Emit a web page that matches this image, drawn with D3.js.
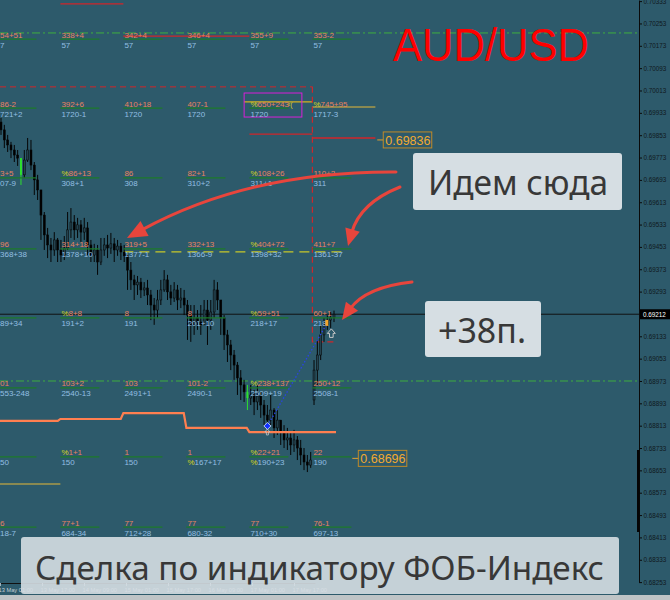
<!DOCTYPE html>
<html><head><meta charset="utf-8">
<script src="https://cdn.jsdelivr.net/npm/d3@7"></script>
<style>html,body{margin:0;padding:0;background:#2d5a6b;}svg{display:block}</style>
</head><body><svg id="c" width="670" height="600"></svg>
<script>
// ---------------- DATA ----------------
const priceTicks = [0.70333,0.70253,0.70173,0.70093,0.70013,0.69933,0.69853,0.69773,0.69693,0.69613,0.69533,0.69453,0.69373,0.69293,0.69213,0.69133,0.69053,0.68973,0.68893,0.68813,0.68733,0.68653,0.68573,0.68493,0.68413,0.68333,0.68253];
const currentPrice = 0.69212;
const dateTicks = ["2019-05-13 01:00","2019-05-13 17:00","2019-05-14 09:00","2019-05-15 01:00","2019-05-15 17:00","2019-05-16 09:00","2019-05-17 01:00","2019-05-17 17:00"];
const colDays = ["2019-05-13 00:00","2019-05-14 00:00","2019-05-15 00:00","2019-05-16 00:00","2019-05-17 00:00","2019-05-18 00:00"];
const rowLevels = [0.70197,0.69950,0.69700,0.69446,0.69199,0.68948,0.68701,0.68450];
const topLabels = [
 ["54+51","338+4","342+4","346+4","355+9","353-2"],
 ["86-2","392+6","410+18","407-1","%650+243","%745+95"],
 ["3+5","%86+13","86","82+1","%108+26","110+2"],
 ["96","314+18","319+5","332+13","%404+72","411+7"],
 ["","%8+8","8","8","%59+51","60+1"],
 ["01","103+2","103","101-2","%238+137","250+12"],
 ["","%1+1","1","1","%22+21","22"],
 ["6","77+1","77","77","77","76-1"]];
const bottomLabels = [
 ["7","57","57","57","57","57"],
 ["721+2","1720-1","1720","1720","1720","1717-3"],
 ["07-9","308+1","308","310+2","311+1","311"],
 ["368+38","1378+10","1377-1","1366-9","1398+32","1361-37"],
 ["89+34","191+2","191","201+10","218+17","218"],
 ["553-248","2540-13","2491+1","2490-1","2509+19","2508-1"],
 ["50","150","150","%167+17","%190+23","190"],
 ["18-7","684-34","712+28","680-32","710+30","697-13"]];
// candles (prices x 1e-5)
const opens0 = 69900, gapOpen = {94: 68905};
const closes = [69872,69836,69818,69800,69782,69771,69711,69764,69800,69746,
 69693,69657,69567,69496,69460,69442,69478,69442,69424,69449,
 69514,69542,69514,69532,69506,69521,69460,69424,69442,69399,
 69442,69460,69449,69464,69442,69456,69435,69421,69370,69335,
 69317,69327,69299,69306,69281,69245,69227,69263,69299,69335,
 69292,69270,69299,69263,69270,69245,69209,69174,69199,69184,
 69174,69227,69191,69220,69299,69263,69199,69138,69102,69066,
 69030,68984,68959,68934,68912,68923,68898,68919,68887,68851,
 68833,68869,68805,68833,68790,68762,68769,68744,68762,68733,
 68708,68683,68672,68690,69012,69066,69138,69174,69191,69199,
 69212];
const highs = [69915,69890,69854,69829,69818,69800,69771,69800,69843,69836,
 69757,69711,69657,69578,69521,69485,69506,69485,69478,69492,
 69578,69592,69567,69557,69549,69557,69542,69478,69464,69460,
 69485,69485,69496,69503,69485,69478,69467,69460,69424,69399,
 69353,69349,69342,69327,69335,69299,69270,69299,69335,69370,
 69353,69317,69327,69317,69306,69299,69263,69245,69245,69227,
 69245,69263,69263,69263,69335,69327,69263,69209,69156,69120,
 69084,69041,69012,68977,68959,68959,68941,68959,68934,68905,
 68887,68923,68876,68869,68833,68815,68805,68790,68798,68776,
 68762,68733,68708,68719,69048,69120,69174,69199,69209,69220,
 69225];
const lows = [69854,69807,69793,69771,69757,69743,69675,69700,69757,69728,
 69639,69621,69478,69442,69413,69399,69421,69399,69399,69406,
 69442,69485,69478,69485,69471,69478,69424,69399,69399,69353,
 69388,69421,69413,69428,69399,69421,69406,69399,69299,69299,
 69263,69281,69270,69277,69245,69191,69174,69199,69245,69292,
 69263,69245,69256,69227,69234,69209,69120,69113,69138,69156,
 69138,69174,69102,69156,69199,69227,69138,69084,69041,69012,
 68977,68923,68905,68898,68869,68887,68851,68869,68841,68815,
 68805,68815,68769,68780,68744,68733,68726,68708,68719,68690,
 68672,68654,68647,68662,68887,68959,69048,69113,69156,69163,
 69184];
const signalCandles = [6, 74];
// indicator step line
const stepTimes = ["2019-05-13 01:00","2019-05-13 23:00","2019-05-14 00:00","2019-05-14 23:00","2019-05-15 00:00","2019-05-15 23:00","2019-05-16 00:00","2019-05-16 23:00","2019-05-17 00:00","2019-05-18 09:00"];
const stepValues = [0.68830,0.68830,0.68837,0.68837,0.68858,0.68858,0.68805,0.68805,0.68790,0.68790];
// level lines
const greenDashLevels = [0.70219, 0.68973];
const redSolidSegs = [[0.70323,"2019-05-14 00:00","2019-05-15 00:00"],[0.70208,"2019-05-15 00:00","2019-05-17 00:00"],[0.69857,"2019-05-17 00:00","2019-05-18 00:00"],[0.69843,"2019-05-18 00:00","2019-05-19 00:00"]];
const redDashLevel = [0.70026,"2019-05-13 01:00","2019-05-18 00:00"];
const yellowSeg = [0.69972,"2019-05-16 22:00","2019-05-18 00:00"];
const oliveSegs = [[0.69954,"2019-05-18 00:00","2019-05-19 00:00"],[0.68604,"2019-05-13 00:00","2019-05-14 00:00"]];
const yellowDashSeg = [0.69435,"2019-05-15 00:00","2019-05-18 12:00"];
const magentaBox = ["2019-05-16 22:00","2019-05-17 20:00",0.70004,0.69918];
const redDashBox = ["2019-05-18 00:00","2019-05-18 09:00",0.70026,0.69113];
const priceLabels = [[0.69836,"2019-05-19 03:00"],[0.68696,"2019-05-18 17:30"]];
const trendFrom = [80, 0.68812], trendTo = [98, 0.69181];

// ---------------- SCALES ----------------
const P = d3.timeParse("%Y-%m-%d %H:%M");
const svg = d3.select("#c");
const y = d3.scaleLinear().domain([0.70337,0.68253]).range([0,582.1]);
const xT = d3.scaleTime().domain([P("2019-05-13 01:00"),P("2019-05-18 01:00")]).range([0,315]);
const xI = d3.scaleLinear().domain([0,closes.length-1]).range([1,334]);
const yp = v => y(v/1e5);
const LF = "'Liberation Sans',Arial,sans-serif";

svg.append("rect").attr("width",670).attr("height",600).attr("fill","#2d5a6b");
svg.append("defs").append("clipPath").attr("id","clip").append("rect").attr("width",639).attr("height",583);

// date axis
const xa = svg.append("g").attr("transform","translate(0,583)")
 .call(d3.axisBottom(xT).tickValues(dateTicks.map(P)).tickFormat(d3.timeFormat("%-d %b %H:%M")).tickSize(3).tickSizeOuter(0));
xa.select(".domain").attr("stroke","#111");
xa.selectAll(".tick line").attr("stroke","#9fb3bd");
xa.selectAll("text").attr("text-anchor","start").attr("x",-2).attr("y",4.5).attr("fill","#c3d0d6").style("font",`5.7px ${LF}`);

const plot = svg.append("g").attr("clip-path","url(#clip)");

// level lines
greenDashLevels.forEach(v=>plot.append("line").attr("x1",0).attr("x2",639).attr("y1",y(v)).attr("y2",y(v))
 .attr("stroke","#3fae3f").attr("stroke-width",1).attr("stroke-dasharray","8,3,2,3"));
redSolidSegs.forEach(s=>plot.append("line").attr("x1",xT(P(s[1]))).attr("x2",xT(P(s[2]))).attr("y1",y(s[0])).attr("y2",y(s[0]))
 .attr("stroke","#d0262a").attr("stroke-width",1.3));
plot.append("line").attr("x1",xT(P(redDashLevel[1]))).attr("x2",xT(P(redDashLevel[2]))).attr("y1",y(redDashLevel[0])).attr("y2",y(redDashLevel[0]))
 .attr("stroke","#d0262a").attr("stroke-width",1).attr("stroke-dasharray","6,4");
plot.append("line").attr("x1",xT(P(yellowSeg[1]))).attr("x2",xT(P(yellowSeg[2]))).attr("y1",y(yellowSeg[0])).attr("y2",y(yellowSeg[0]))
 .attr("stroke","#d4b020").attr("stroke-width",1.3);
oliveSegs.forEach(s=>plot.append("line").attr("x1",xT(P(s[1]))).attr("x2",xT(P(s[2]))).attr("y1",y(s[0])).attr("y2",y(s[0]))
 .attr("stroke","#a89a48").attr("stroke-width",1.5));
plot.append("line").attr("x1",xT(P(yellowDashSeg[1]))).attr("x2",xT(P(yellowDashSeg[2]))).attr("y1",y(yellowDashSeg[0])).attr("y2",y(yellowDashSeg[0]))
 .attr("stroke","#c8c82a").attr("stroke-width",1.2).attr("stroke-dasharray","10,6");
// current price line
plot.append("line").attr("x1",0).attr("x2",639).attr("y1",y(currentPrice)).attr("y2",y(currentPrice)).attr("stroke","#111").attr("stroke-width",1);
// red dashed box (vertical + bottom)
{const x0=xT(P(redDashBox[0])), x1=xT(P(redDashBox[1])), y0=y(redDashBox[2]), y1=y(redDashBox[3]);
 plot.append("path").attr("d",`M${x0},${y0}V${y1}H${x1}`).attr("fill","none").attr("stroke","#d0262a").attr("stroke-width",1.2).attr("stroke-dasharray","6,4");}
// magenta box
{const x0=xT(P(magentaBox[0])), x1=xT(P(magentaBox[1]));
 plot.append("rect").attr("x",x0).attr("y",y(magentaBox[2])).attr("width",x1-x0).attr("height",y(magentaBox[3])-y(magentaBox[2]))
 .attr("fill","none").attr("stroke","#d81ed8").attr("stroke-width",1);
 plot.append("text").attr("x",x1-14).attr("y",y(0.69954)).attr("fill","#d8d020").style("font",`7px ${LF}`).text("‹(");}

// candles
const cg = plot.append("g");
closes.forEach((c,i)=>{
  const o = gapOpen[i] !== undefined ? gapOpen[i] : (i===0 ? opens0 : closes[i-1]);
  const x = xI(i), sig = signalCandles.includes(i);
  const col = sig ? "#2ee02e" : "#050505";
  cg.append("line").attr("x1",x).attr("x2",x).attr("y1",yp(highs[i])).attr("y2",yp(lows[i])).attr("stroke",col).attr("stroke-width",1);
  const top = Math.min(yp(o),yp(c)), h = Math.max(1,Math.abs(yp(o)-yp(c)));
  cg.append("rect").attr("x",x-1).attr("y",top).attr("width",2).attr("height",h)
    .attr("fill", sig ? "#2ee02e" : (c>o ? "#24424e" : "#000")).attr("stroke", sig? "none" : "#050505").attr("stroke-width",0.5);
});

// indicator step line
plot.append("path").datum(stepTimes.map((t,i)=>[xT(P(t)),y(stepValues[i])]))
 .attr("d",d3.line()).attr("fill","none").attr("stroke","#ff7f50").attr("stroke-width",2.2);

// grid labels
const lg = plot.append("g").style("font",`8px ${LF}`);
function addLabel(x,yy,str,color){
  const t = lg.append("text").attr("x",x).attr("y",yy);
  if(str.startsWith("%")){ t.append("tspan").attr("fill","#d8d820").text("%"); t.append("tspan").attr("fill",color).text(str.slice(1)); }
  else t.attr("fill",color).text(str);
}
rowLevels.forEach((lv,r)=>{
  colDays.forEach((d,c)=>{
    const x0 = xT(P(d));
    if(!(r===1 && c===5)) lg.append("line").attr("x1",x0).attr("x2",x0+39).attr("y1",y(lv)).attr("y2",y(lv)).attr("stroke","#1c7a2a").attr("stroke-width",1.3);
    const tx = Math.max(0,x0+1);
    if(topLabels[r][c]) addLabel(tx,y(lv)-1.5,topLabels[r][c],"#e8825f");
    if(bottomLabels[r][c]) addLabel(tx,y(lv)+8.5,bottomLabels[r][c],"#93bfe2");
  });
});

// trend dotted line and markers
const tx0=xI(trendFrom[0]), ty0=y(trendFrom[1]), tx1=xI(trendTo[0]), ty1=y(trendTo[1]);
plot.append("line").attr("x1",tx0).attr("y1",ty0).attr("x2",tx1).attr("y2",ty1).attr("stroke","#2a44e8").attr("stroke-width",1.3).attr("stroke-dasharray","1.5,2");
plot.append("path").attr("d",`M${tx0},${ty0+3}l-2.5,3h1.5v3h2v-3h1.5z`).attr("fill","none").attr("stroke","#c0c8cc").attr("stroke-width",0.8);
plot.append("path").attr("d",`M${tx0},${ty0-3.5}l3.5,3.5l-3.5,3.5l-3.5,-3.5z`).attr("fill","#1030ff").attr("stroke","#e0e8ff").attr("stroke-width",0.8);
plot.append("rect").attr("x",tx1-2).attr("y",ty1-3).attr("width",3).attr("height",6).attr("fill","#f3a52a");
plot.append("path").attr("d",`M${tx1+4},${ty1+6}l-4,4.5h2.2v4h3.6v-4h2.2z`).attr("fill","none").attr("stroke","#c8c8c8").attr("stroke-width",1);

// price labels
priceLabels.forEach(([v,t])=>{
  const x0 = xT(P(t)), yy = y(v);
  svg.append("line").attr("x1",x0-6).attr("x2",x0).attr("y1",yy).attr("y2",yy).attr("stroke","#e0a030").attr("stroke-width",1);
  svg.append("rect").attr("x",x0).attr("y",yy-8).attr("width",48.5).attr("height",16).attr("fill","none").attr("stroke","#c08a28").attr("stroke-width",1);
  svg.append("text").attr("x",x0+2).attr("y",yy+5).attr("fill","#f2aa30").style("font",`12.5px ${LF}`).text(d3.format(".5f")(v));
});

// right axis
const ya = svg.append("g").attr("transform","translate(639,0)")
 .call(d3.axisRight(y).tickValues(priceTicks).tickFormat(d3.format(".5f")).tickSize(3).tickSizeOuter(0));
ya.select(".domain").attr("stroke","#0a0a0a");
ya.selectAll(".tick line").attr("stroke","#0a0a0a");
ya.selectAll("text").attr("x",4.5).attr("fill","#10191d").style("font",`6.3px ${LF}`);
svg.append("rect").attr("x",637).attr("y",450).attr("width",2.5).attr("height",82).attr("fill","#050505");
svg.append("rect").attr("x",640).attr("y",y(currentPrice)-5).attr("width",30).attr("height",10).attr("fill","#000");
svg.append("text").attr("x",643).attr("y",y(currentPrice)+2.3).attr("fill","#fff").style("font",`6.3px ${LF}`).text(d3.format(".5f")(currentPrice));

// ---------------- ANNOTATIONS ----------------
svg.append("text").attr("x",393).attr("y",61).attr("fill","#ff0000").attr("textLength",196).attr("lengthAdjust","spacingAndGlyphs")
 .style("font",`46px ${LF}`).text("AUD/USD");

function arrow(s,c,e,hl,hw){
  const dx=e[0]-c[0], dy=e[1]-c[1], L=Math.hypot(dx,dy), ux=dx/L, uy=dy/L;
  const bx=e[0]-ux*hl, by=e[1]-uy*hl;
  svg.append("path").attr("d",`M${s[0]},${s[1]}Q${c[0]},${c[1]} ${bx+ux*3},${by+uy*3}`)
    .attr("fill","none").attr("stroke","#e8453c").attr("stroke-width",3).attr("stroke-linecap","round");
  svg.append("path").attr("d",`M${e[0]},${e[1]}L${bx-uy*hw},${by+ux*hw}L${bx+uy*hw},${by-ux*hw}Z`).attr("fill","#e8453c");
}
arrow([396,172],[250,171],[127,238],20,8.5);
arrow([400,187],[360,203],[348,246],17,7.5);
arrow([412,282],[366,287],[342,320],17,7.5);

const CF = "'Noto Sans','DejaVu Sans',sans-serif";
svg.append("rect").attr("x",413).attr("y",153).attr("width",209).attr("height",57).attr("rx",3).attr("fill","#d6dee3");
svg.append("text").attr("x",428).attr("y",195).attr("fill","#383838").attr("textLength",180).attr("lengthAdjust","spacingAndGlyphs")
 .style("font",`35px ${CF}`).text("Идем сюда");
svg.append("rect").attr("x",425).attr("y",301).attr("width",116).attr("height",56).attr("rx",3).attr("fill","#d6dee3");
svg.append("text").attr("x",438).attr("y",343).attr("fill","#383838").attr("textLength",88).attr("lengthAdjust","spacingAndGlyphs")
 .style("font",`35px ${CF}`).text("+38п.");
svg.append("rect").attr("x",21).attr("y",537).attr("width",598).attr("height",57).attr("rx",3).attr("fill","#d6dee3").attr("opacity",0.9);
svg.append("text").attr("x",35).attr("y",580).attr("fill","#383838").attr("textLength",569).attr("lengthAdjust","spacingAndGlyphs")
 .style("font",`32px ${CF}`).text("Сделка по индикатору ФОБ-Индекс");
svg.append("rect").attr("x",0).attr("y",595).attr("width",670).attr("height",5).attr("fill","#bfc4c6");
</script></body></html>
